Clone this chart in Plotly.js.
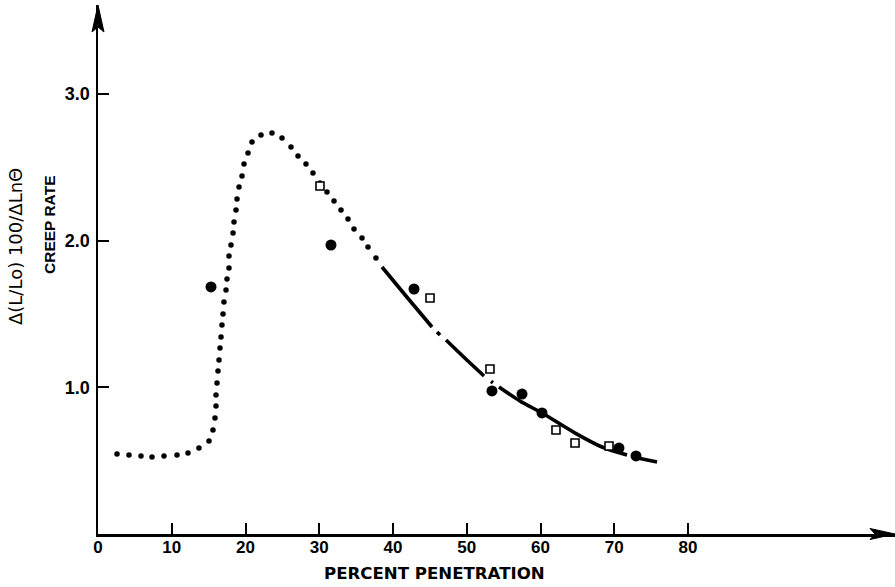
<!DOCTYPE html>
<html>
<head>
<meta charset="utf-8">
<script src="https://cdn.plot.ly/plotly-3.0.1.min.js"></script>
<style>html,body{margin:0;padding:0;background:#fff;}#chart{width:895px;height:587px;}</style>
</head>
<body>
<div id="chart"></div>
<script>
// Dotted portion of the fitted curve (read dot by dot)
const dotX = [2.58, 4.20, 5.83, 7.32, 8.95, 10.71, 12.20, 13.69, 15.05, 15.59, 15.86, 16.0, 16.0, 16.14, 16.27, 16.41, 16.54, 16.68, 16.81, 16.95, 17.08, 17.36, 17.49, 17.76, 17.76, 18.03, 18.31, 18.44, 18.71, 18.85, 19.12, 19.53, 19.80, 20.34, 20.88, 22.10, 23.59, 24.95, 26.17, 27.12, 28.20, 29.15, 30.10, 31.05, 32.0, 32.95, 33.90, 34.71, 35.80, 36.61, 37.69];
const dotY = [0.545, 0.539, 0.532, 0.525, 0.532, 0.539, 0.552, 0.586, 0.634, 0.709, 0.791, 0.873, 0.948, 1.029, 1.111, 1.186, 1.268, 1.343, 1.425, 1.500, 1.581, 1.663, 1.738, 1.813, 1.895, 1.970, 2.052, 2.127, 2.209, 2.284, 2.365, 2.440, 2.522, 2.597, 2.672, 2.720, 2.733, 2.699, 2.638, 2.577, 2.522, 2.461, 2.393, 2.331, 2.270, 2.209, 2.147, 2.079, 2.018, 1.956, 1.881];

// Solid portion of the fitted curve (null = printed gap)
const lineX = [38.51, 41.9, 45.29, null, 45.97, 46.38, null, 47.19, 49.8, 52.34, null, 53.3, 53.55, null, 54.37, 57.2, 60.2, 64.7, 68.34, 71.73, null, 72.54, 75.80];
const lineY = [1.820, 1.614, 1.411, null, 1.377, 1.356, null, 1.322, 1.196, 1.077, null, 1.041, 1.031, null, 1.002, 0.907, 0.825, 0.688, 0.593, 0.539, null, 0.525, 0.491];

// Filled circles
const circleX = [15.32, 31.59, 42.85, 53.42, 57.49, 60.20, 70.64, 72.95];
const circleY = [1.684, 1.970, 1.670, 0.975, 0.954, 0.825, 0.586, 0.532];

// Open squares
const squareX = [30.10, 45.02, 53.15, 62.10, 64.68, 69.29];
const squareY = [2.372, 1.609, 1.125, 0.709, 0.620, 0.600];

// Axis ticks
const xTickVals = [0, 10, 20, 30, 40, 50, 60, 70, 80];
const xTickText = ['0', '10', '20', '30', '40', '50', '60', '70', '80'];
const yTickVals = [1, 2, 3];
const yTickText = ['1.0', '2.0', '3.0'];

const xTitle = 'PERCENT PENETRATION';
const yTitle1 = 'CREEP RATE';
const yTitle2 = 'Δ(L/Lo) 100/ΔLnΘ';

const W = 895, H = 587;
const mL = 98, mR = 0, mT = 5, mB = 53;
const plotW = W - mL - mR, plotH = H - mT - mB;
const pxPerX = 7.375, pxPerY = 146.7;
const xMax = plotW / pxPerX;
const yMax = plotH / pxPerY;

// helpers to convert pixel offsets into paper coords for decorations
const px2paperX = p => (p - mL) / plotW;
const px2paperY = p => (H - mB - p) / plotH;

const traces = [
  {x: dotX, y: dotY, mode: 'markers', type: 'scatter',
   marker: {color: '#000', size: 5.5, line: {width: 0}}, hoverinfo: 'skip'},
  {x: lineX, y: lineY, mode: 'lines', type: 'scatter', connectgaps: false,
   line: {color: '#000', width: 3.6, shape: 'spline', smoothing: 0.8}, hoverinfo: 'skip'},
  {x: circleX, y: circleY, mode: 'markers', type: 'scatter',
   marker: {color: '#000', size: 11, symbol: 'circle', line: {width: 0}}},
  {x: squareX, y: squareY, mode: 'markers', type: 'scatter',
   marker: {color: '#fff', size: 8, symbol: 'square', line: {color: '#000', width: 1.6}}}
];

const tickFontX = {family: 'Liberation Sans, Arial, sans-serif', size: 17, color: '#000', weight: 'bold'};
const tickFontY = {family: 'Liberation Sans, Arial, sans-serif', size: 18, color: '#000', weight: 'bold'};

const layout = {
  width: W, height: H,
  margin: {l: mL, r: mR, t: mT, b: mB, pad: 0},
  paper_bgcolor: '#fff', plot_bgcolor: '#fff',
  showlegend: false,
  xaxis: {
    range: [0, xMax], showgrid: false, zeroline: false,
    showline: true, linecolor: '#000', linewidth: 2.5,
    ticks: 'inside', ticklen: 11, tickwidth: 2, tickcolor: '#000',
    tickvals: xTickVals, ticktext: xTickText, tickfont: tickFontX,
    ticklabelstandoff: -4
  },
  yaxis: {
    range: [0, yMax], showgrid: false, zeroline: false,
    showline: true, linecolor: '#000', linewidth: 2.5,
    ticks: 'inside', ticklen: 11, tickwidth: 2, tickcolor: '#000',
    tickvals: yTickVals, ticktext: yTickText, tickfont: tickFontY,
    ticklabelstandoff: 2
  },
  shapes: [
    {type: 'path', xref: 'paper', yref: 'paper',
     path: `M 1,0 L ${px2paperX(870)},${5.5/plotH} L ${px2paperX(875)},0 L ${px2paperX(870)},${-5.5/plotH} Z`,
     fillcolor: '#000', line: {color: '#000', width: 1}},
    {type: 'path', xref: 'paper', yref: 'paper',
     path: `M 0,1 L ${-6/plotW},${px2paperY(32)} L 0,${px2paperY(27)} L ${6/plotW},${px2paperY(32)} Z`,
     fillcolor: '#000', line: {color: '#000', width: 1}}
  ],
  annotations: [
    {text: xTitle, xref: 'paper', yref: 'paper', x: px2paperX(434), y: px2paperY(573),
     xanchor: 'center', yanchor: 'middle', showarrow: false,
     font: {family: 'DejaVu Sans, sans-serif', size: 16.6, color: '#000', weight: 'bold'}},
    {text: yTitle1, xref: 'paper', yref: 'paper', x: px2paperX(49), y: px2paperY(225),
     xanchor: 'center', yanchor: 'middle', showarrow: false, textangle: -90,
     font: {family: 'Liberation Sans, Arial, sans-serif', size: 15.5, color: '#000', weight: 'bold'}},
    {text: yTitle2, xref: 'paper', yref: 'paper', x: px2paperX(15), y: px2paperY(247),
     xanchor: 'center', yanchor: 'middle', showarrow: false, textangle: -90,
     font: {family: 'DejaVu Sans, sans-serif', size: 18, color: '#000'}}
  ]
};

Plotly.newPlot('chart', traces, layout, {staticPlot: true, displayModeBar: false});
</script>
</body>
</html>
